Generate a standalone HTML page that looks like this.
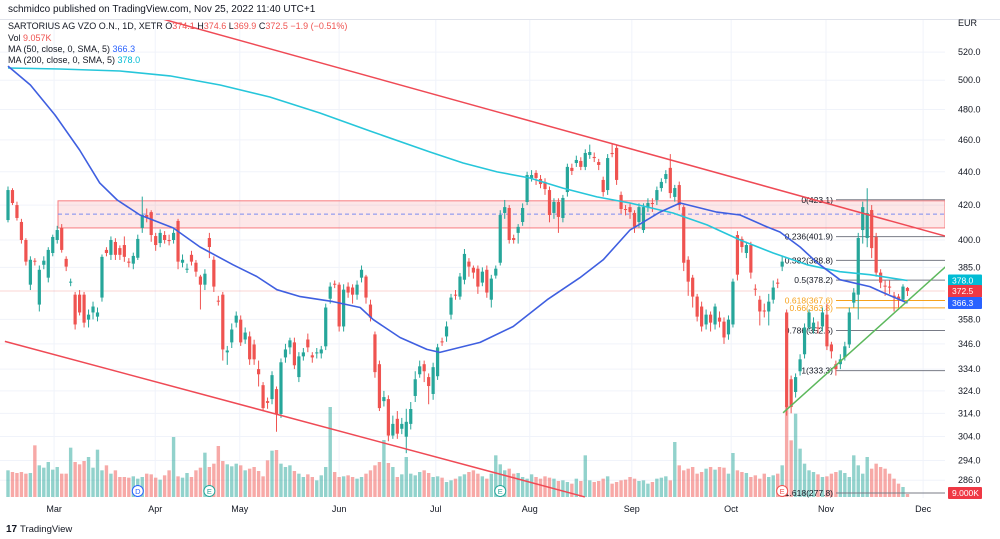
<!DOCTYPE html>
<html><head><meta charset="utf-8">
<style>
html,body{margin:0;padding:0;background:#fff;width:1000px;height:539px;overflow:hidden;font-family:"Liberation Sans",sans-serif;}
svg text{font-family:"Liberation Sans",sans-serif;}
</style></head>
<body>
<svg id="chart" width="1000" height="539" viewBox="0 0 1000 539" xmlns="http://www.w3.org/2000/svg">
<defs><clipPath id="plotclip"><rect x="0" y="20" width="945" height="478"/></clipPath></defs>
<text x="8" y="12" font-size="10" fill="#131722">schmidco published on TradingView.com, Nov 25, 2022 11:40 UTC+1</text>
<line x1="0" y1="19.5" x2="1000" y2="19.5" stroke="#e0e3eb"/>
<g id="grid"></g>
<g id="plot" clip-path="url(#plotclip)"></g>
<g id="axis"></g>
<g id="legend">
<text x="8" y="29" font-size="9" fill="#131722">SARTORIUS AG VZO O.N., 1D, XETR  O<tspan fill="#ef5350">374.1</tspan> H<tspan fill="#ef5350">374.6</tspan> L<tspan fill="#ef5350">369.9</tspan> C<tspan fill="#ef5350">372.5  −1.9 (−0.51%)</tspan></text>
<text x="8" y="41" font-size="9" fill="#131722">Vol <tspan fill="#ef5350">9.057K</tspan></text>
<text x="8" y="52" font-size="9" fill="#131722">MA (50, close, 0, SMA, 5) <tspan fill="#2962ff">366.3</tspan></text>
<text x="8" y="63" font-size="9" fill="#131722">MA (200, close, 0, SMA, 5) <tspan fill="#00bcd4">378.0</tspan></text>
</g>
<g>
<text x="6" y="532" font-size="10" font-weight="bold" fill="#131722">17</text>
<text x="20" y="532" font-size="9.5" fill="#131722">TradingView</text>
</g>
</svg>
<script>
const opens=[411.3,428.9,420.0,410.2,400.0,375.8,388.6,365.5,386.4,379.5,392.8,400.0,406.8,389.6,376.9,370.6,370.6,370.6,357.9,361.5,359.4,369.1,394.5,391.8,398.9,395.5,397.2,388.1,387.0,390.2,406.8,414.2,415.9,402.2,398.3,402.8,400.0,400.0,410.8,387.5,383.7,391.8,387.5,380.1,375.8,401.1,389.1,367.5,370.6,341.9,
346.7,356.4,357.9,348.1,349.6,345.7,334.0,326.6,319.4,320.3,324.8,313.7,339.5,344.3,346.7,330.3,340.0,348.1,340.5,341.4,341.4,344.8,368.5,376.3,375.8,354.5,374.8,374.3,370.6,379.5,380.1,365.5,350.6,336.3,319.4,320.3,304.4,311.6,307.3,303.9,309.4,321.7,331.6,336.3,330.3,322.6,330.7,347.2,349.6,360.4,370.6,369.6,378.4,388.1,384.8,384.3,376.9,383.7,368.0,380.6,387.5,415.4,418.3,401.1,404.0,410.2,421.8,436.2,439.3,435.6,433.8,428.9,415.4,421.8,412.5,427.7,442.4,445.4,446.7,443.0,450.4,449.2,446.0,435.0,428.9,451.7,454.9,426.0,417.7,418.8,415.4,410.2,405.6,418.8,421.2,423.0,430.1,435.6,442.4,424.8,431.9,418.8,389.1,379.5,369.6,364.5,355.5,360.4,355.5,358.9,356.9,350.6,355.5,402.8,400.6,392.8,397.2,373.7,368.0,362.5,362.0,368.0,376.9,385.4,361.5,329.3,323.5,333.0,341.0,354.0,353.0,354.0,354.5,360.4,345.7,336.3,336.3,339.5,345.7,366.5,370.6,405.6,401.1,417.1,401.7,382.2,375.3,374.8,370.1,369.6,368.0,374.1];
const closes=[428.9,421.2,412.5,400.0,388.1,389.1,388.1,383.7,388.6,394.5,401.7,405.6,394.5,385.4,377.4,355.5,361.5,356.4,360.4,364.5,361.5,390.7,392.8,400.0,391.8,391.8,390.7,387.5,391.2,400.6,414.2,412.5,402.8,397.2,404.0,400.0,399.4,404.0,388.1,389.1,384.3,388.1,382.7,375.8,381.6,396.1,374.8,367.0,343.3,342.8,
353.0,359.9,346.7,351.5,338.6,338.6,331.6,316.3,318.6,331.2,313.7,337.2,343.3,347.7,335.8,340.0,341.9,344.3,339.5,341.9,343.3,364.0,374.8,375.8,354.5,373.2,371.7,370.6,375.8,383.7,369.1,358.9,332.6,316.3,321.2,304.4,309.4,305.2,309.4,310.3,315.9,329.3,335.3,333.0,326.2,334.9,344.3,346.7,354.5,369.1,370.1,380.1,392.3,385.4,382.2,374.8,382.7,371.7,379.0,384.3,414.2,418.8,400.0,400.0,407.4,418.3,438.0,438.0,436.2,432.5,429.5,414.2,421.8,413.1,424.2,443.0,440.5,447.3,443.0,451.7,452.3,448.5,444.2,427.7,448.5,451.0,435.0,417.7,417.1,415.9,407.4,418.8,418.8,421.2,420.6,428.9,433.8,438.6,427.1,430.1,420.0,387.5,377.4,369.6,359.4,354.5,360.4,356.4,364.5,356.9,349.1,357.9,377.4,381.1,396.1,397.2,382.2,373.2,362.0,362.0,367.0,374.3,376.3,388.1,316.8,316.8,330.3,338.6,354.0,361.5,356.4,353.5,361.5,344.8,342.4,334.0,338.6,344.8,361.5,371.7,401.1,418.8,415.4,395.5,382.2,376.9,374.8,374.3,369.1,368.0,374.8,372.5];
const highs=[431,430,422,412,401,391,390,386,391,396,403,408,409,391,379,372,373,372,363,367,364,392,396,402,401,397,402,390,393,403,425,418,417,404,406,405,403,406,412,392,387,394,389,381,384,404,391,370,372,345,
356,362,360,354,352,348,338,328,321,333,326,339,346,349,349,342,344,351,342,344,345,366,377,378,377,376,377,376,378,386,381,368,352,338,324,322,313,315,312,316,319,333,338,338,332,337,346,349,357,371,373,382,395,390,386,386,385,386,381,386,417,423,420,403,409,421,440,441,441,438,436,431,424,424,426,445,445,450,449,454,457,452,448,437,451,458,457,428,420,421,417,421,421,424,424,431,436,441,451,432,434,420,391,381,371,367,363,362,366,362,359,360,379,405,402,399,399,376,370,366,371,378,379,391,363,331,332,341,356,363,359,357,364,366,347,338,341,347,364,374,404,422,430,420,404,384,378,378,372,371,376,374.6];
const lows=[410,420,411,398,386,373,386,362,384,377,391,398,393,383,375,353,360,354,354,358,357,367,391,389,389,389,388,385,384,389,404,410,399,394,396,398,397,398,384,385,382,386,380,363,373,390,372,365,338,336,
344,354,345,346,336,336,326,315,316,318,306,312,337,341,334,328,338,342,337,339,339,343,366,374,352,352,369,366,368,377,366,357,330,315,317,302,303,303,305,297,307,319,330,328,318,320,329,345,347,358,368,368,376,380,379,371,375,369,364,379,386,412,398,398,398,408,420,434,432,430,426,410,412,404,410,425,438,443,441,441,448,446,441,425,426,449,432,415,414,412,404,407,404,416,416,420,428,433,424,422,417,383,370,364,357,352,353,352,353,354,346,348,354,378,393,390,379,370,355,359,355,366,374,383,313,314,321,331,339,352,351,351,352,343,339,331,334,338,344,364,358,398,396,390,380,374,370,371,362,364,367,369.9];
const volumes=[80,75,72,75,70,72,155,95,88,105,82,90,70,70,148,105,98,108,120,88,142,80,95,70,80,60,60,58,62,55,60,70,68,58,52,65,80,180,62,58,72,60,80,88,133,90,100,153,108,98,
92,100,95,80,85,90,78,62,110,139,141,100,90,95,78,70,60,68,60,50,65,90,270,75,60,62,65,60,55,60,70,80,95,105,171,102,90,60,68,120,70,65,75,80,72,60,62,58,45,50,55,62,68,75,80,70,62,55,70,125,98,80,85,70,72,60,55,68,60,55,62,58,55,48,50,45,40,55,48,125,50,45,48,55,62,40,45,50,52,60,55,48,50,40,45,55,58,62,50,165,95,80,85,90,70,75,85,90,82,90,88,70,132,80,75,72,60,65,55,70,60,65,70,95,275,170,250,145,100,80,75,68,60,62,70,75,80,72,60,125,95,70,120,85,100,90,85,70,55,40,30,9];
const ma50Idx=[0,5,10.5,16,20.5,24.4,29.5,36.9,42.9,50.3,55.6,60.1,65.3,72.6,78.7,81.6,87.6,93.6,96.5,105.5,112.9,120.5,127.8,133,139,145.7,150.2,158.4,163.6,169.6,172.5,177,180.8,185.9,192.6,195.5,201];
const ma50Val=[510,496.7,476.3,453.6,433.2,423.0,414.2,406.8,396.1,386.4,380.1,373.2,369.6,367.0,364.0,357.9,349.1,343.3,341.9,346.7,354.5,368.0,379.5,389.1,405.6,415.9,421.2,415.9,414.2,407.4,404.5,396.1,387.5,378.4,374.8,371.7,366.3];
const ma200Idx=[0,11.6,25,36.2,47.4,58.5,69.7,80.9,94.3,101.7,109.3,116.6,124,131.6,139,145.7,148.6,156.2,163.6,171,178.6,185.9,192.6,201];
const ma200Val=[508.6,507.9,506.5,503.0,496.7,488.4,477.6,465.8,452.3,445.4,439.9,436.2,430.1,424.8,421.2,417.1,415.4,408.5,400.0,392.8,386.4,382.7,381.1,378.0];
const priceTicks=[520,500,480,460,440,420,400,385,358,346,334,324,314,304,294,286];
const monthLabels=["Mar","Apr","May","Jun","Jul","Aug","Sep","Oct","Nov","Dec"];
const monthIdx=[10.3,32.9,51.8,74,95.6,116.6,139.4,161.6,182.8,204.5];
const fibRatios=["0","0.236","0.382","0.5","0.618","0.66","0.786","1","1.618"];
const fibPrices=[423.1,401.9,388.8,378.2,367.6,363.8,352.5,333.3,277.8];
const zoneTop=422.5, zoneBottom=406.8, zoneMid=414.7;
const upperChannel=[[31.3,547.7],[209.4,402.2]];
const lowerChannel=[[-0.7,347.2],[128.9,279.4]];
const greenTrend=[[173.2,314.2],[210,386.4]];
const lastPrice=372.5;

const NS="http://www.w3.org/2000/svg";
const X0=8, STEP=4.475, PLOT_R=945, VBASE=497, VSCALE=1/3;
const xs=i=>X0+i*STEP;
const ys=p=>240-716*Math.log(p/400);
const yv=v=>VBASE-v*VSCALE;
function mk(tag,attrs,parent){const e=document.createElementNS(NS,tag);for(const k in attrs)e.setAttribute(k,attrs[k]);parent.appendChild(e);return e;}
const plot=document.getElementById('plot'),grid=document.getElementById('grid'),axis=document.getElementById('axis'),svg=document.getElementById('chart');
const UP="#26a69a",DN="#ef5350";

// grid
priceTicks.forEach(p=>{const l=mk('line',{x1:0,x2:PLOT_R,y1:ys(p),y2:ys(p),stroke:"#f0f3fa"},grid);

});
monthIdx.forEach(i=>{const l=mk('line',{x1:xs(i),x2:xs(i),y1:20,y2:498,stroke:"#f0f3fa"},grid);

});

// volume
volumes.forEach((v,i)=>{const up=closes[i]>=opens[i];
const r=mk('rect',{x:xs(i)-1.7,y:yv(v),width:3.4,height:v*VSCALE,fill:up?"rgba(38,166,154,0.5)":"rgba(239,83,80,0.5)"},plot);

});

// zone
const zr=mk('rect',{x:58,y:ys(zoneTop),width:PLOT_R-58,height:ys(zoneBottom)-ys(zoneTop),fill:"rgba(242,54,69,0.12)",stroke:"#f77c80","stroke-width":1},plot);


const zm=mk('line',{x1:58,x2:PLOT_R,y1:ys(zoneMid),y2:ys(zoneMid),stroke:"#7b8cf0","stroke-dasharray":"4,3"},plot);



// last price line
const lp=mk('line',{x1:0,x2:PLOT_R,y1:ys(lastPrice),y2:ys(lastPrice),stroke:"rgba(239,83,80,0.25)"},plot);



// fib
fibPrices.forEach((p,k)=>{const orange=(fibRatios[k]==="0.618"||fibRatios[k]==="0.66");
const col=orange?"#f7a21b":"#787b86";
const yy=Math.min(ys(p),493);
const l=mk('line',{x1:836,x2:PLOT_R,y1:yy,y2:yy,stroke:col,"stroke-width":1},plot);


const t=mk('text',{x:833,y:yy+3,"font-size":8.5,"text-anchor":"end",fill:orange?"#f7a21b":"#131722"},plot);
t.textContent=fibRatios[k]+"("+p.toFixed(1)+")";

});

// candles
opens.forEach((o,i)=>{const c=closes[i],up=c>=o,col=up?UP:DN,x=xs(i);
const w=mk('line',{x1:x,x2:x,y1:ys(highs[i]),y2:ys(lows[i]),stroke:col,"stroke-width":1},plot);


const t=ys(Math.max(o,c)),b=ys(Math.min(o,c));
const r=mk('rect',{x:x-1.6,y:t,width:3.2,height:Math.max(1,b-t),fill:col},plot);

});

// MAs
function poly(ix,vals,col,name){const d=ix.map((i,k)=>(k?"L":"M")+xs(i).toFixed(1)+","+ys(vals[k]).toFixed(1)).join("");
const p=mk('path',{d:d,fill:"none",stroke:col,"stroke-width":1.6,"stroke-linejoin":"round"},plot);

}
poly(ma200Idx,ma200Val,"#26c6da","ma200-line");
poly(ma50Idx,ma50Val,"#3f5fe0","ma50-line");

// trendlines
function tl(pts,col,name){const l=mk('line',{x1:xs(pts[0][0]),y1:ys(pts[0][1]),x2:xs(pts[1][0]),y2:ys(pts[1][1]),stroke:col,"stroke-width":1.5},plot);

}
tl(upperChannel,"#ef4a55","upper-channel-line");
tl(lowerChannel,"#ef4a55","lower-channel-line");
tl(greenTrend,"#5cb85c","support-trendline");

// event markers
[[29,"D","#2962ff"],[45,"E","#26a69a"],[110,"E","#26a69a"],[173,"E","#ef5350"]].forEach(m=>{
const g=mk('g',{},plot);


mk('circle',{cx:xs(m[0]),cy:491,r:5.5,fill:"#fff",stroke:m[2]},g);
const t=mk('text',{x:xs(m[0]),y:494,"font-size":7.5,"text-anchor":"middle",fill:m[2]},g);t.textContent=m[1];});

// axis
const ax=mk('text',{x:958,y:26,"font-size":9,fill:"#131722"},axis);ax.textContent="EUR";


priceTicks.forEach(p=>{const t=mk('text',{x:958,y:ys(p)+3,"font-size":9,fill:"#131722"},axis);t.textContent=p.toFixed(1);

});
function box(y,h,col,lines,name){const g=mk('g',{},axis);


mk('rect',{x:948,y:y,width:34,height:h,fill:col,rx:1},g);
lines.forEach((s,k)=>{const t=mk('text',{x:952,y:y+9+k*9,"font-size":8.5,fill:"#fff"},g);t.textContent=s;});}
box(ys(ma200Val[ma200Val.length-1])-6,12,"#00bcd4",[ma200Val[ma200Val.length-1].toFixed(1)],"ma200-price-tag");
box(ys(lastPrice)-6,20,"#ef3844",[lastPrice.toFixed(1),"07:19:47"],"last-price-tag");
box(ys(ma50Val[ma50Val.length-1])-6,12,"#2962ff",[ma50Val[ma50Val.length-1].toFixed(1)],"ma50-price-tag");
box(487,12,"#ef3844",[volumes[volumes.length-1].toFixed(3)+"K"],"volume-tag");

monthLabels.forEach((m,k)=>{const t=mk('text',{x:xs(monthIdx[k]),y:512,"font-size":9,"text-anchor":"middle",fill:"#131722"},axis);t.textContent=m;

});
</script>
</body></html>
